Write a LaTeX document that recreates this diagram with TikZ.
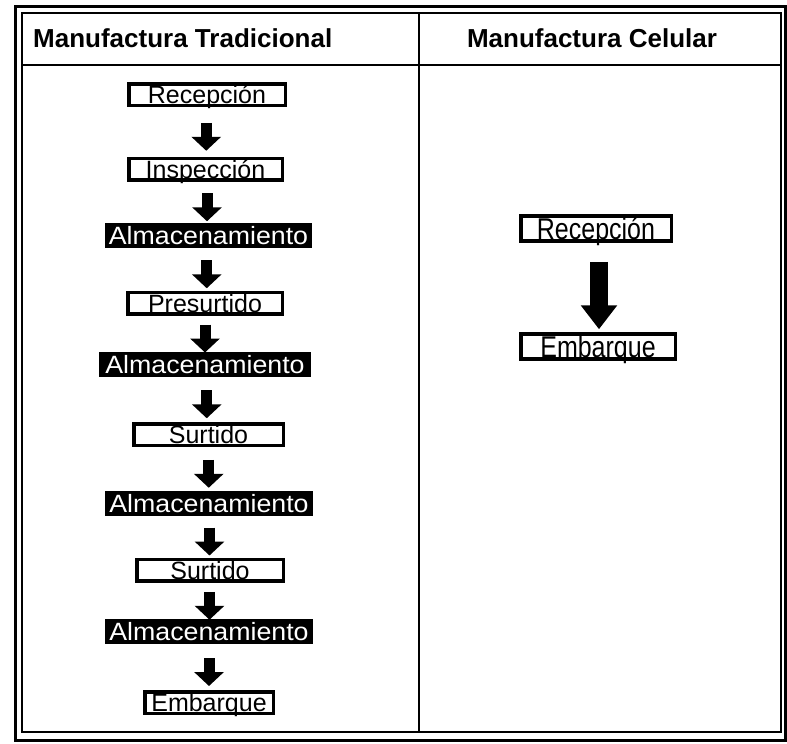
\documentclass[tikz,border=0pt]{standalone}
\usepackage{fontspec}
\setmainfont{Liberation Sans}
\usetikzlibrary{arrows.meta,calc}
\newcommand{\widetext}[1]{\scalebox{1.07}[1]{#1}}
\newcommand{\talltext}[1]{\scalebox{1}[1.2]{#1}}
\begin{document}
\begin{tikzpicture}[x=1pt,y=-1pt,
  lbox/.style={draw=black, line width=3.5pt, fill=white, inner xsep=0pt, inner ysep=0pt,
    font=\fontsize{25}{25}\selectfont, text height=20pt, text depth=1.5pt},
  dbox/.style={lbox, fill=black, text=white},
  rbox/.style={lbox, text height=23.5pt, text depth=1.5pt},
  title/.style={font=\fontsize{26}{26}\selectfont\bfseries, inner sep=0pt},
  larrow/.style={line width=11pt, -{Triangle[length=14pt,width=29pt]}},
  rarrow/.style={line width=18pt, -{Triangle[length=24pt,width=35pt]}, shorten <=19pt, shorten >=3pt},
  frame/.style={line width=2pt}]
\useasboundingbox (0,0) rectangle (787,744);
% frames
\draw[line width=3pt] (15,6) rectangle (785,740);
\draw[frame] (22,13) rectangle (781,732);
\draw[frame] (22,65) -- (781,65);
\draw[frame] (419,13) -- (419,732);
% titles
\node[title, anchor=west] (t1) at (33,38) {Manufactura Tradicional};
\node[title] (t2) at (592,38) {Manufactura Celular};
% left column
\node[lbox, minimum width=156.5pt] (a1) at (207,94.5) {Recepción};
\node[lbox, minimum width=153.5pt] (a2) at (205.5,169) {Inspección};
\node[dbox, minimum width=203.5pt] (a3) at (208.5,235.5) {\widetext{Almacenamiento}};
\node[lbox, minimum width=154.5pt] (a4) at (205,303) {Presurtido};
\node[dbox, minimum width=208.5pt] (a5) at (205,364) {\widetext{Almacenamiento}};
\node[lbox, minimum width=149.5pt] (a6) at (208.5,434.5) {Surtido};
\node[dbox, minimum width=204.5pt] (a7) at (209,503) {\widetext{Almacenamiento}};
\node[lbox, minimum width=146.5pt] (a8) at (210,570) {Surtido};
\node[dbox, minimum width=204.5pt] (a9) at (209,631.5) {\widetext{Almacenamiento}};
\node[lbox, minimum width=128.5pt] (a10) at (209,702.5) {Embarque};
\foreach \i/\j in {a1/a2,a2/a3,a3/a4,a4/a5,a5/a6,a6/a7,a7/a8,a8/a9,a9/a10}
  \draw[larrow] ($(\i.south)!.5!(\j.north)+(0,-9)$) -- ($(\i.south)!.5!(\j.north)+(0,19)$);
% right column
\node[rbox, minimum width=150.5pt] (b1) at (596,228.5) {\talltext{Recepción}};
\node[rbox, minimum width=154.5pt] (b2) at (598,346.5) {\talltext{Embarque}};
\coordinate (b1s) at ($(b1.south)+(3,0)$);
\draw[rarrow] (b1s) -- (b1s |- b2.north);
\end{tikzpicture}
\end{document}
